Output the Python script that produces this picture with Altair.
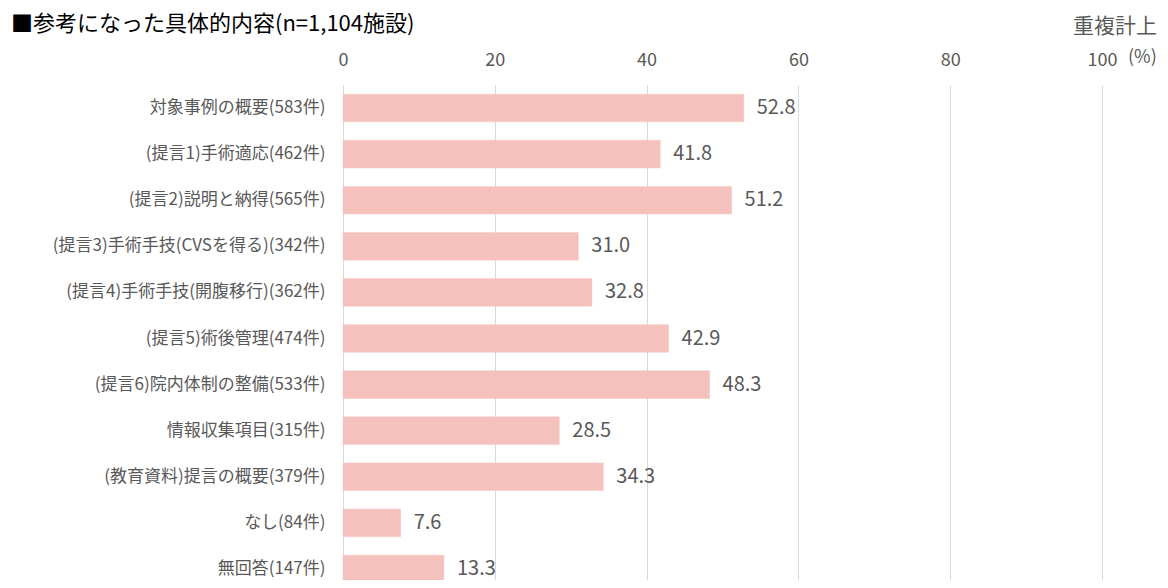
import altair as alt
import pandas as pd

categories = [
    "対象事例の概要(583件)",
    "(提言1)手術適応(462件)",
    "(提言2)説明と納得(565件)",
    "(提言3)手術手技(CVSを得る)(342件)",
    "(提言4)手術手技(開腹移行)(362件)",
    "(提言5)術後管理(474件)",
    "(提言6)院内体制の整備(533件)",
    "情報収集項目(315件)",
    "(教育資料)提言の概要(379件)",
    "なし(84件)",
    "無回答(147件)",
]
values = [52.8, 41.8, 51.2, 31.0, 32.8, 42.9, 48.3, 28.5, 34.3, 7.6, 13.3]
x_ticks = [0, 20, 40, 60, 80, 100]
title_text = "■参考になった具体的内容(n=1,104施設)"
note_text = "重複計上"
unit_text = "(%)"

df = pd.DataFrame({"cat": categories, "val": values})

FONT = "Noto Sans CJK JP"
TXT = "#595959"

y_enc = alt.Y(
    "cat:N",
    sort=categories,
    scale=alt.Scale(paddingInner=0.4, paddingOuter=0.2, range=[0, 507]),
    axis=alt.Axis(
        title=None, domain=False, ticks=False, labelPadding=18,
        labelFont=FONT, labelFontSize=17, labelColor=TXT, labelLimit=400,
    ),
)
x_enc = alt.X(
    "val:Q",
    scale=alt.Scale(domain=[0, 100], nice=False),
    axis=alt.Axis(
        orient="top", values=x_ticks, title=None, domain=False, ticks=False,
        labelFlush=False, labelPadding=16, labelFont=FONT, labelFontSize=18,
        labelColor=TXT, gridColor="#D9D9D9", gridWidth=1,
    ),
)

base = alt.Chart(df)
bars = base.mark_bar(color="#F4C1BD", stroke="#F4C9C5", strokeWidth=0.5).encode(x=x_enc, y=y_enc)
labels = base.mark_text(
    align="left", baseline="middle", dx=13, font=FONT, fontSize=20, color=TXT
).encode(x="val:Q", y=alt.Y("cat:N", sort=categories), text=alt.Text("val:Q", format=".1f"))

title = alt.Chart(pd.DataFrame({"t": [title_text]})).mark_text(
    align="left", baseline="middle", font=FONT, fontSize=22, color="#000000"
).encode(x=alt.value(-332), y=alt.value(-61), text="t:N")

note = alt.Chart(pd.DataFrame({"t": [note_text]})).mark_text(
    align="right", baseline="middle", font=FONT, fontSize=21, color=TXT
).encode(x=alt.value(814), y=alt.value(-58), text="t:N")

unit = alt.Chart(pd.DataFrame({"t": [unit_text]})).mark_text(
    align="left", baseline="middle", font=FONT, fontSize=18, color=TXT
).encode(x=alt.value(785), y=alt.value(-27), text="t:N")

chart = alt.layer(bars, labels, title, note, unit).properties(
    width=759,
    height=495,
    autosize=alt.AutoSizeParams(type="none"),
    padding={"left": 335, "top": 77, "right": 58, "bottom": 0},
).configure_view(stroke=None)

chart.save("out.html", embed_options={"renderer": "svg", "actions": False})
